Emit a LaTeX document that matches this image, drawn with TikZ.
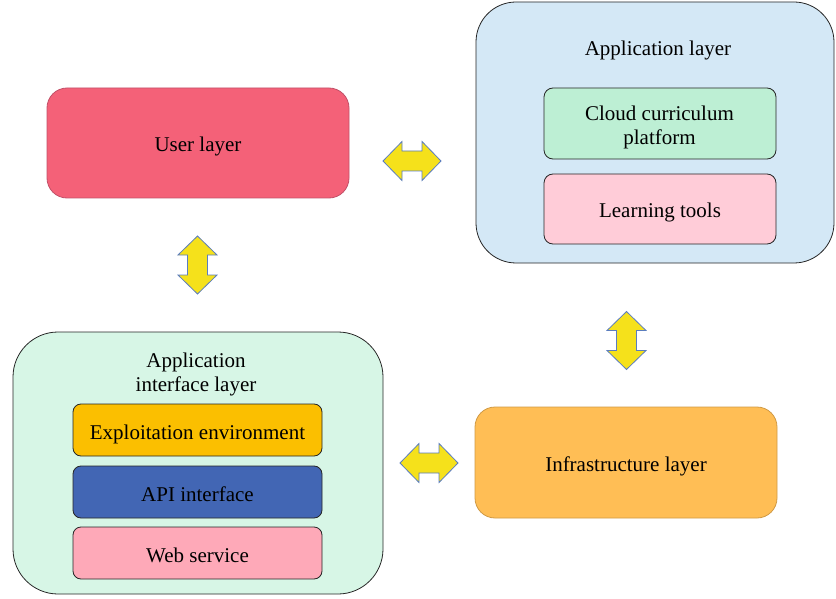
\documentclass[tikz,border=0pt]{standalone}
\usepackage{fontspec}
\setmainfont{Liberation Serif}
\begin{document}
\begin{tikzpicture}[x=1pt,y=-1pt,
  font=\fontsize{21}{24.5}\selectfont,
  box/.style={draw, line width=0.8pt, align=center, inner sep=0pt,
    text height=18pt, text depth=0pt},
  outer/.style={draw, line width=0.8pt, draw=black!85, rounded corners=40pt, inner sep=0pt},
  inner/.style={box, draw=black!85, rounded corners=9pt, minimum width=232pt},
  sub/.style={box, draw=black!85, rounded corners=8pt, minimum width=249pt, minimum height=52pt},
  layer/.style={box, rounded corners=20pt, minimum width=302pt, minimum height=110pt},
  caption/.style={align=center, inner sep=0pt, anchor=north},
  dblarrow/.pic={
    \draw[fill=arrowyellow, draw=arrowblue, line width=0.8pt, line join=miter]
      (-29,0) -- (-10,19.5) -- (-10,10) -- (10,10) -- (10,19.5) -- (29,0)
      -- (10,-19.5) -- (10,-10) -- (-10,-10) -- (-10,-19.5) -- cycle;
  }]
\definecolor{arrowyellow}{HTML}{F5E11B}
\definecolor{arrowblue}{HTML}{5B7DBE}
\definecolor{userfill}{HTML}{F46178}
\definecolor{userdraw}{HTML}{C25068}
\definecolor{appfill}{HTML}{D4E8F6}
\definecolor{cloudfill}{HTML}{BDEFD4}
\definecolor{learnfill}{HTML}{FFCCD8}
\definecolor{apifill}{HTML}{D7F6E6}
\definecolor{exploitfill}{HTML}{FBBF00}
\definecolor{apiboxfill}{HTML}{4266B4}
\definecolor{webfill}{HTML}{FEA9B8}
\definecolor{infrafill}{HTML}{FFBE55}
\definecolor{infradraw}{HTML}{D09A45}

\useasboundingbox (0,0) rectangle (836,599);

% User layer
\node[layer, fill=userfill, draw=userdraw] (user) at (198,143) {User layer};

% Application layer with its two parts
\node[outer, fill=appfill, minimum width=358pt, minimum height=261pt] (app) at (655,132.5) {};
\node[caption] (apptitle) at (658,40.5) {Application layer};
\node[inner, fill=cloudfill, minimum height=71pt] (cloud) at (660,123.5) {};
\node[caption] (cloudtext) at (659.5,105.5) {Cloud curriculum\\platform};
\node[inner, fill=learnfill, minimum height=70pt] (learn) at (660,209) {Learning tools};

% Application interface layer with its three parts
\node[outer, fill=apifill, rounded corners=45pt, minimum width=370pt, minimum height=262pt] (apil) at (198,463) {};
\node[caption] (apititle) at (196,352.5) {Application\\interface layer};
\node[sub, fill=exploitfill] (exploit) at (197.5,430) {Exploitation environment};
\node[sub, fill=apiboxfill] (apibox) at (197.5,492) {API interface};
\node[sub, fill=webfill] (web) at (197.5,553) {Web service};

% Infrastructure layer
\node[layer, fill=infrafill, draw=infradraw, minimum height=111pt] (infra) at (626,462.5) {Infrastructure layer};

% Two-headed block arrows between the layers
\pic at (412,161) {dblarrow};
\pic[rotate=90] at (197.5,265) {dblarrow};
\pic[rotate=90] at (626.5,340.5) {dblarrow};
\pic at (429,463) {dblarrow};
\end{tikzpicture}
\end{document}
